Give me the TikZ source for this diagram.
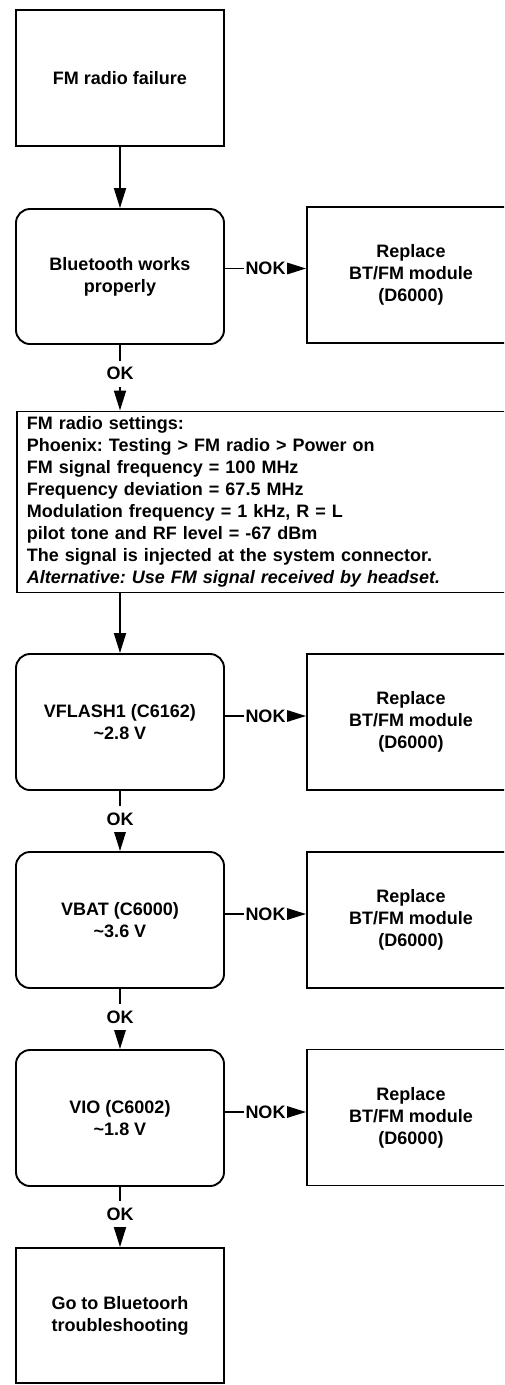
\documentclass[tikz,border=0pt]{standalone}
\usepackage{fontspec}
\setmainfont{Liberation Sans}
\usetikzlibrary{arrows.meta}
\frenchspacing
\tikzset{
  box/.style={draw=black, line width=1.9pt, minimum width=208pt, minimum height=136pt,
    align=center, inner sep=0pt, font=\fontsize{18}{22}\selectfont\bfseries},
  rbox/.style={box, rounded corners=14pt},
  setbox/.style={draw=black, line width=1.9pt, minimum width=504pt, minimum height=181pt,
    text width=484pt, align=left, inner xsep=10pt, inner ysep=0pt,
    font=\fontsize{18}{22}\selectfont\bfseries},
  flow/.style={line width=1.9pt, -{Triangle[length=20pt,width=12pt]}},
  oklab/.style={fill=white, inner xsep=2pt, inner ysep=7pt, text height=12pt, text depth=0pt,
    font=\fontsize{18}{22}\selectfont\bfseries},
  noklab/.style={fill=white, inner xsep=1.5pt, inner ysep=2pt,
    font=\fontsize{18}{22}\selectfont\bfseries},
}
\begin{document}
\begin{tikzpicture}[x=1pt,y=-1pt]
\clip (0,0) rectangle (504,1385);
\fill[white] (0,0) rectangle (504,1385);

\node[box]  (b1) at (120,78) {FM radio failure};
\node[rbox, minimum height=135pt] (b2) at (120,276.5) {Bluetooth works\\properly};
\node[box]  (r1) at (411,275) {Replace\\BT/FM module\\(D6000)};
\node[setbox, anchor=north west] (set) at (16,410.5) {FM radio settings:\\
Phoenix: Testing > FM radio > Power on\\
FM signal frequency = 100 MHz\\
Frequency deviation = 67.5 MHz\\
Modulation frequency = 1 kHz, R = L\\
pilot tone and RF level = -67 dBm\\
The signal is injected at the system connector.\\
\textit{Alternative: Use FM signal received by headset.}};
\node[rbox] (b3) at (120,722) {VFLASH1 (C6162)\\\textasciitilde2.8 V};
\node[box]  (r2) at (411,722) {Replace\\BT/FM module\\(D6000)};
\node[rbox] (b4) at (120,920) {VBAT (C6000)\\\textasciitilde3.6 V};
\node[box]  (r3) at (411,920) {Replace\\BT/FM module\\(D6000)};
\node[rbox] (b5) at (120,1118) {VIO (C6002)\\\textasciitilde1.8 V};
\node[box]  (r4) at (411,1117.5) {Replace\\BT/FM module\\(D6000)};
\node[box, minimum height=135pt] (b6) at (120,1315.5) {Go to Bluetoorh\\troubleshooting};

\draw[flow] (b1.south) -- (b2.north);
\draw[flow] (b2.south) -- node[oklab, pos=0.44]{OK} (set.north -| b2.south);
\draw[flow] (set.south -| b3.north) -- (b3.north);
\draw[flow] (b3.south) -- node[oklab, pos=0.47]{OK} (b4.north);
\draw[flow] (b4.south) -- node[oklab, pos=0.47]{OK} (b5.north);
\draw[flow] (b5.south) -- node[oklab, pos=0.45]{OK} (b6.north);

\draw[flow] ([yshift=8pt]b2.east) -- node[noklab]{NOK} ([yshift=8pt]b2.east -| r1.west);
\draw[flow] ([yshift=6pt]b3.east) -- node[noklab]{NOK} ([yshift=6pt]b3.east -| r2.west);
\draw[flow] ([yshift=6pt]b4.east) -- node[noklab]{NOK} ([yshift=6pt]b4.east -| r3.west);
\draw[flow] ([yshift=6pt]b5.east) -- node[noklab]{NOK} ([yshift=6pt]b5.east -| r4.west);
\end{tikzpicture}
\end{document}
